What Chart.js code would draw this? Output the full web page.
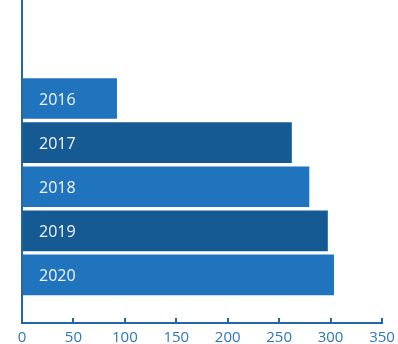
<!DOCTYPE html>
<html>
<head>
<meta charset="utf-8">
<script src="https://cdn.jsdelivr.net/npm/chart.js@4"></script>
<style>
  html, body { margin: 0; padding: 0; background: #fff; }
  #wrap { width: 398px; height: 344px; }
</style>
</head>
<body>
<div id="wrap"><canvas id="chart"></canvas></div>
<script>
const years = ['2016', '2017', '2018', '2019', '2020'];
const values = [92, 262, 279, 297, 303];
const barColors = ['#1f74bd', '#155a93', '#1f74bd', '#155a93', '#1f74bd'];
const xTicks = [0, 50, 100, 150, 200, 250, 300, 350];

const axisColor = '#2366a8';

// year names written inside the bars, near the left axis
const barLabels = {
  id: 'barLabels',
  afterDatasetsDraw(chart) {
    const c = chart.ctx;
    const y = chart.scales.y;
    c.save();
    c.fillStyle = '#f2f5f9';
    c.font = '16px "Open Sans"';
    c.textAlign = 'left';
    c.textBaseline = 'middle';
    years.forEach((name, i) => {
      c.fillText(name, chart.chartArea.left + 17, y.getPixelForValue(i) + 2);
    });
    c.restore();
  }
};

const ctx = document.getElementById('chart').getContext('2d');
new Chart(ctx, {
  type: 'bar',
  data: {
    datasets: [{
      data: values.map((v, i) => ({ x: v, y: i })),
      backgroundColor: barColors,
      barThickness: 40,
      borderWidth: 0
    }]
  },
  options: {
    indexAxis: 'y',
    responsive: true,
    maintainAspectRatio: false,
    animation: false,
    layout: { padding: { left: 22, right: 16, top: 0, bottom: 0 } },
    plugins: { legend: { display: false }, tooltip: { enabled: false } },
    scales: {
      x: {
        type: 'linear',
        min: 0,
        max: 350,
        afterBuildTicks: s => { s.ticks = xTicks.map(v => ({ value: v })); },
        afterFit: s => { s.height = 21; s.paddingLeft = 0; s.paddingRight = 0; },
        ticks: {
          color: '#2e77ba',
          font: { family: 'Open Sans', size: 15 },
          padding: 11,
          maxRotation: 0
        },
        grid: { drawOnChartArea: false, tickLength: -5, color: axisColor, lineWidth: 2 },
        border: { color: axisColor, width: 2 }
      },
      y: {
        type: 'linear',
        reverse: true,
        offset: false,
        min: -2.234,
        max: 5.09,
        afterFit: s => { s.paddingTop = 0; s.paddingBottom = 0; },
        ticks: { display: false },
        grid: { display: false, drawTicks: false },
        border: { color: axisColor, width: 2 }
      }
    }
  },
  plugins: [barLabels]
});
</script>
</body>
</html>
